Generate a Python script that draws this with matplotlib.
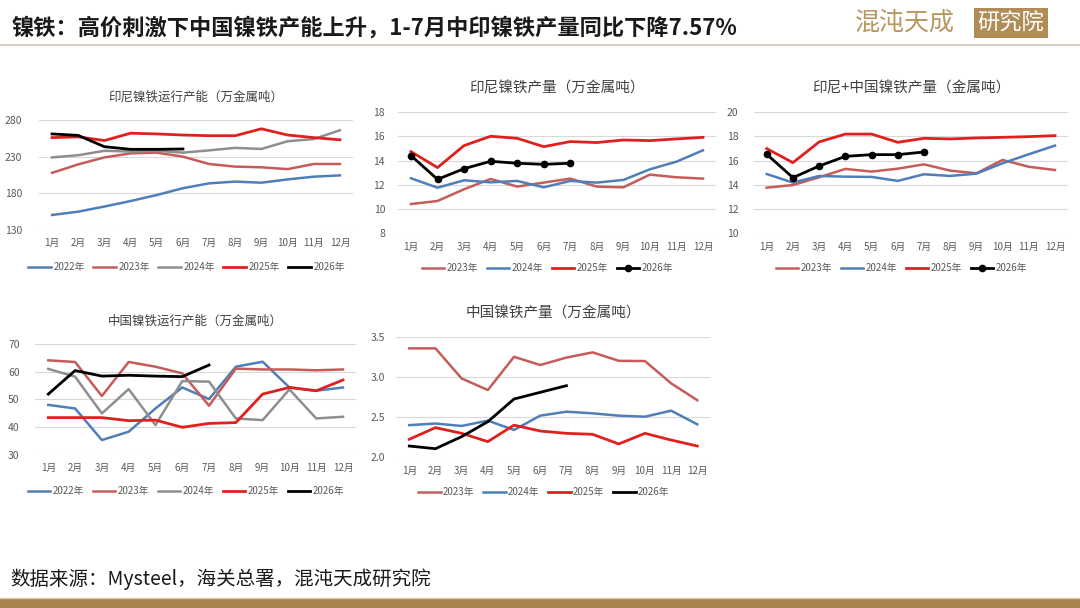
import numpy as np
import matplotlib
matplotlib.use("Agg")
import matplotlib.pyplot as plt
from matplotlib.lines import Line2D

plt.rcParams['font.family'] = ['Noto Sans CJK SC', 'DejaVu Sans']
plt.rcParams['axes.unicode_minus'] = False

# 月份
months = ['1月', '2月', '3月', '4月', '5月', '6月', '7月', '8月', '9月', '10月', '11月', '12月']

# 印尼镍铁运行产能（万金属吨）
indo_cap_2022 = [150.5, 155, 162, 169.5, 177.7, 187, 193.6, 196, 194.5, 199, 202.7, 204.5]
indo_cap_2023 = [208, 219.5, 229, 234.5, 235.5, 230, 220, 216.4, 215.5, 213, 220, 220]
indo_cap_2024 = [229, 232, 238, 237, 238, 235.5, 238.6, 242, 240.5, 251, 254, 266]
indo_cap_2025 = [256, 257, 252, 262, 261, 259.5, 258.6, 258.6, 268, 259.5, 256, 253]
indo_cap_2026 = [261, 259, 243.6, 240, 240, 240.5]

# 印尼镍铁产量（万金属吨）
indo_out_2023 = [10.42, 10.67, 11.64, 12.49, 11.86, 12.19, 12.52, 11.86, 11.8, 12.85, 12.63, 12.52]
indo_out_2024 = [12.55, 11.77, 12.38, 12.21, 12.33, 11.8, 12.33, 12.19, 12.41, 13.29, 13.92, 14.86]
indo_out_2025 = [14.75, 13.43, 15.25, 16.02, 15.85, 15.16, 15.58, 15.5, 15.71, 15.66, 15.8, 15.93]
indo_out_2026 = [14.42, 12.46, 13.34, 13.95, 13.79, 13.7, 13.79]

# 印尼+中国镍铁产量（金属吨）
total_out_2023 = [13.77, 13.99, 14.63, 15.32, 15.1, 15.34, 15.7, 15.18, 14.96, 16.06, 15.5, 15.23]
total_out_2024 = [14.9, 14.19, 14.74, 14.68, 14.66, 14.33, 14.88, 14.74, 14.93, 15.79, 16.53, 17.25]
total_out_2025 = [17.0, 15.84, 17.55, 18.2, 18.2, 17.52, 17.85, 17.8, 17.88, 17.93, 17.99, 18.07]
total_out_2026 = [16.53, 14.6, 15.56, 16.36, 16.5, 16.5, 16.72]

# 中国镍铁运行产能（万金属吨）
cn_cap_2022 = [48, 46.7, 35.3, 38.3, 46.7, 54.3, 50.1, 61.8, 63.6, 54.3, 53.1, 54.3]
cn_cap_2023 = [64.1, 63.5, 51.2, 63.5, 61.8, 59.4, 47.7, 61.1, 60.8, 60.8, 60.5, 60.8]
cn_cap_2024 = [61, 58.2, 44.9, 53.7, 40.7, 56.6, 56.4, 43.1, 42.5, 53.6, 43.1, 43.7]
cn_cap_2025 = [43.4, 43.4, 43.4, 42.3, 42.5, 39.9, 41.3, 41.6, 51.9, 54.3, 53.1, 57]
cn_cap_2026 = [51.9, 60.4, 58.4, 58.7, 58.4, 58.2, 62.4]

# 中国镍铁产量（万金属吨）
cn_out_2023 = [3.355, 3.355, 2.98, 2.837, 3.25, 3.148, 3.24, 3.305, 3.2, 3.197, 2.92, 2.71]
cn_out_2024 = [2.40, 2.42, 2.39, 2.456, 2.34, 2.518, 2.567, 2.547, 2.518, 2.505, 2.58, 2.41]
cn_out_2025 = [2.224, 2.369, 2.298, 2.195, 2.40, 2.327, 2.298, 2.286, 2.166, 2.298, 2.215, 2.14]
cn_out_2026 = [2.14, 2.107, 2.257, 2.443, 2.725, 2.808, 2.891]

c_blue = '#4F7FB8'
c_rose = '#C65C5A'
c_gray = '#8E8E8E'
c_red = '#E0201E'
c_black = '#000000'
txt = '#404040'
tick_c = '#595959'

fig = plt.figure(figsize=(10.8, 6.08), dpi=100)
W, H = 1080.0, 608.0


def make_ax(left, right, top, bottom):
    return fig.add_axes([left / W, 1 - bottom / H, (right - left) / W, (bottom - top) / H])


def style(ax, ylim, yticks, ylabels, title, title_size, ypad):
    ax.set_xlim(0.5, 12.5)
    ax.set_ylim(*ylim)
    ax.set_yticks(yticks)
    ax.set_yticklabels(ylabels)
    ax.set_xticks(range(1, 13))
    ax.set_xticklabels(months)
    ax.grid(axis='y', color='#D9D9D9', lw=0.8)
    ax.set_axisbelow(True)
    for s in ax.spines.values():
        s.set_visible(False)
    ax.tick_params(length=0, labelsize=7, colors=tick_c, pad=6)
    ax.tick_params(axis='y', pad=ypad, labelsize=7.5)
    ax.set_title(title, fontsize=title_size, color=txt, pad=14)


def add_legend(ax, y):
    ax.legend(loc='center', bbox_to_anchor=(0.47, y), ncol=5, frameon=False,
              fontsize=7, handlelength=2.3, columnspacing=0.9, handletextpad=0.25,
              labelcolor=tick_c)


x12 = np.arange(1, 13)

# 面板1
ax1 = make_ax(39, 353, 120, 230)
ax1.plot(x12, indo_cap_2022, color=c_blue, lw=1.8, label='2022年')
ax1.plot(x12, indo_cap_2023, color=c_rose, lw=1.8, label='2023年')
ax1.plot(x12, indo_cap_2024, color=c_gray, lw=1.8, label='2024年')
ax1.plot(x12, indo_cap_2025, color=c_red, lw=2.0, label='2025年')
ax1.plot(x12[:len(indo_cap_2026)], indo_cap_2026, color=c_black, lw=2.0, label='2026年')
style(ax1, (130, 280), [130, 180, 230, 280], ['130', '180', '230', '280'],
      '印尼镍铁运行产能（万金属吨）', 9, 12)
add_legend(ax1, -0.34)

# 面板2
ax2 = make_ax(397.7, 716.3, 112.3, 233.3)
ax2.plot(x12, indo_out_2023, color=c_rose, lw=1.8, label='2023年')
ax2.plot(x12, indo_out_2024, color=c_blue, lw=1.8, label='2024年')
ax2.plot(x12, indo_out_2025, color=c_red, lw=2.0, label='2025年')
ax2.plot(x12[:len(indo_out_2026)], indo_out_2026, color=c_black, lw=2.0,
         marker='o', markersize=4.5, label='2026年')
style(ax2, (8, 18), [8, 10, 12, 14, 16, 18], ['8', '10', '12', '14', '16', '18'],
      '印尼镍铁产量（万金属吨）', 10.5, 9)
add_legend(ax2, -0.29)

# 面板3
ax3 = make_ax(753.6, 1068.1, 112.3, 233.3)
ax3.plot(x12, total_out_2023, color=c_rose, lw=1.8, label='2023年')
ax3.plot(x12, total_out_2024, color=c_blue, lw=1.8, label='2024年')
ax3.plot(x12, total_out_2025, color=c_red, lw=2.0, label='2025年')
ax3.plot(x12[:len(total_out_2026)], total_out_2026, color=c_black, lw=2.0,
         marker='o', markersize=4.5, label='2026年')
style(ax3, (10, 20), [10, 12, 14, 16, 18, 20], ['10', '12', '14', '16', '18', '20'],
      '印尼+中国镍铁产量（金属吨）', 10.5, 11)
add_legend(ax3, -0.29)

# 面板4
ax4 = make_ax(34.9, 356.4, 344, 454.7)
ax4.plot(x12, cn_cap_2022, color=c_blue, lw=1.8, label='2022年')
ax4.plot(x12, cn_cap_2023, color=c_rose, lw=1.8, label='2023年')
ax4.plot(x12, cn_cap_2024, color=c_gray, lw=1.8, label='2024年')
ax4.plot(x12, cn_cap_2025, color=c_red, lw=2.0, label='2025年')
ax4.plot(x12[:len(cn_cap_2026)], cn_cap_2026, color=c_black, lw=2.0, label='2026年')
style(ax4, (30, 70), [30, 40, 50, 60, 70], ['30', '40', '50', '60', '70'],
      '中国镍铁运行产能（万金属吨）', 9, 11)
add_legend(ax4, -0.33)

# 面板5
ax5 = make_ax(396.2, 710.4, 336.7, 457.3)
ax5.plot(x12, cn_out_2023, color=c_rose, lw=1.8, label='2023年')
ax5.plot(x12, cn_out_2024, color=c_blue, lw=1.8, label='2024年')
ax5.plot(x12, cn_out_2025, color=c_red, lw=2.0, label='2025年')
ax5.plot(x12[:len(cn_out_2026)], cn_out_2026, color=c_black, lw=2.0, label='2026年')
style(ax5, (2.0, 3.5), [2.0, 2.5, 3.0, 3.5], ['2.0', '2.5', '3.0', '3.5'],
      '中国镍铁产量（万金属吨）', 10.5, 8)
add_legend(ax5, -0.29)

# 标题与页眉
fig.text(12 / W, 1 - 28 / H, '镍铁：高价刺激下中国镍铁产能上升，1-7月中印镍铁产量同比下降7.57%',
         fontsize=16, fontweight='bold', color='#1a1a1a', va='center', ha='left')
fig.add_artist(Line2D([0, 1], [1 - 45 / H, 1 - 45 / H], color='#D6CFC2', lw=1.5))
fig.text(905 / W, 1 - 23 / H, '混沌天成', fontsize=18, color='#B8975E', va='center', ha='center')
fig.text(1011 / W, 1 - 23 / H, '研究院', fontsize=16, color='white', va='center', ha='center',
         bbox=dict(boxstyle='square,pad=0.15', fc='#B08D57', ec='none'))

# 数据来源与底栏
fig.text(10 / W, 1 - 579 / H, '数据来源：Mysteel，海关总署，混沌天成研究院',
         fontsize=14, color='#1a1a1a', va='center', ha='left')
fig.add_artist(plt.Rectangle((0, 0), 1, 10 / H, transform=fig.transFigure,
                             color='#A8834F', lw=0))
fig.add_artist(Line2D([0, 1], [10.5 / H, 10.5 / H], color='#D8C7A8', lw=1))

fig.savefig('out.png', dpi=100)
